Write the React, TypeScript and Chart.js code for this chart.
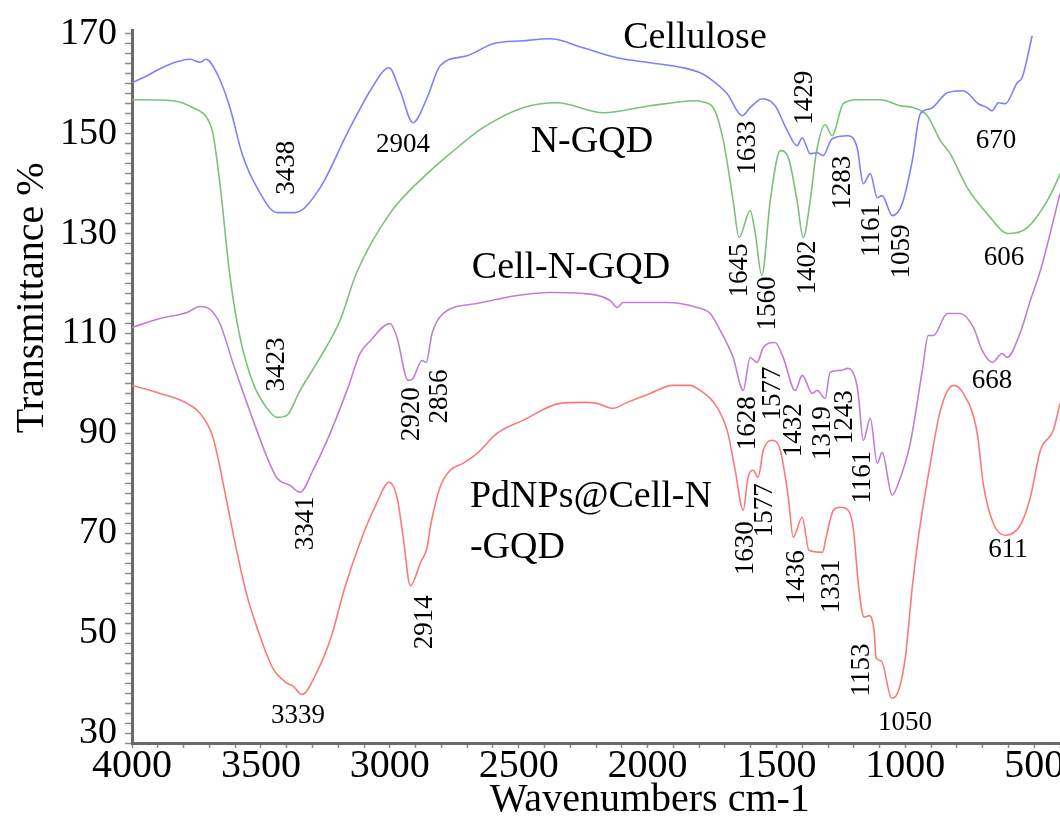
import React, { useEffect, useRef } from "react";
import { Chart, registerables } from "chart.js";

Chart.register(...registerables);

// ---- Data (wavenumber cm-1, transmittance %) ----
const celluloseWn = [4000, 3942, 3891, 3826, 3775, 3736, 3713, 3666, 3620, 3573, 3515, 3437, 3367, 3270, 3166, 3115, 3076, 3003, 2960, 2910, 2855, 2805, 2700, 2599, 2483, 2378, 2250, 2118, 1990, 1862, 1796, 1757, 1691, 1633, 1602, 1555, 1505, 1458, 1420, 1400, 1369, 1342, 1319, 1284, 1222, 1187, 1163, 1136, 1109, 1090, 1051, 1012, 973, 942, 903, 837, 775, 717, 682, 663, 639, 612, 566, 547, 508];
const celluloseT = [160.2, 161.6, 163, 164.4, 164.9, 164.3, 164.9, 161.6, 155.2, 146, 139.2, 134.2, 134.2, 139.2, 150, 155, 158.6, 163.2, 158.6, 152.2, 157.2, 163.6, 165.6, 168, 168.6, 169, 167.2, 165.2, 164.2, 163.2, 162.2, 161, 158, 153.6, 155.2, 157, 155.6, 150.6, 147.6, 149.2, 146, 146.2, 145.6, 149, 149.6, 147.2, 140, 142, 137.2, 137.6, 133.6, 136, 144.6, 154, 155, 158.2, 158.6, 156, 155.2, 154.6, 156.2, 156, 160.2, 161.2, 169.6];

const ngqdWn = [4000, 3841, 3763, 3710, 3686, 3659, 3620, 3581, 3530, 3476, 3437, 3399, 3348, 3270, 3193, 3130, 3000, 2855, 2766, 2638, 2483, 2351, 2172, 1990, 1808, 1790, 1745, 1706, 1668, 1645, 1602, 1582, 1557, 1524, 1485, 1454, 1420, 1396, 1369, 1346, 1311, 1284, 1241, 1187, 1097, 1020, 969, 915, 864, 826, 760, 683, 600, 527, 449, 406, 400];
const ngqdT = [156.8, 156.6, 155.2, 153.2, 150, 140, 121.5, 109.2, 100, 95, 93.2, 93.6, 98.6, 105.2, 112.6, 122, 134, 142, 146, 151.2, 155.2, 156.2, 154.2, 155.6, 156.6, 156.4, 155.2, 148.6, 136.6, 129.2, 134.6, 130, 121.6, 136.6, 146.6, 145.2, 136.6, 129.2, 136.6, 146, 151.8, 149.6, 156, 156.8, 156.8, 155.6, 155.2, 153.6, 148.6, 146, 139.2, 134, 130, 131.2, 136.6, 141.2, 142];

const cellNgqdWn = [4000, 3891, 3787, 3736, 3697, 3659, 3608, 3530, 3476, 3437, 3387, 3348, 3298, 3243, 3166, 3115, 3076, 2999, 2972, 2929, 2910, 2875, 2859, 2836, 2793, 2661, 2506, 2378, 2250, 2145, 2118, 2095, 1924, 1808, 1757, 1718, 1668, 1629, 1602, 1575, 1551, 1505, 1474, 1427, 1400, 1361, 1342, 1311, 1292, 1253, 1222, 1194, 1183, 1163, 1136, 1109, 1090, 1051, 1027, 981, 934, 911, 891, 837, 787, 736, 702, 663, 624, 605, 554, 515, 476, 400];
const cellNgqdT = [111.2, 113, 114.2, 115.4, 114.8, 112, 104, 92.6, 85.2, 81, 79.6, 78.2, 82.6, 88.6, 98.6, 106, 108.5, 112, 109.2, 100.6, 101, 104.6, 104.2, 110, 114, 116, 117.6, 118.2, 118, 116.6, 115.2, 116.2, 116.2, 115.2, 114, 110.6, 105.2, 98.6, 105.2, 104.2, 107.2, 108.2, 105.2, 98.6, 101.6, 98, 98.6, 97, 102.2, 102.6, 103, 101, 98, 88.6, 93, 84, 86.2, 77.6, 80, 88, 102.6, 109.6, 109.6, 114, 114, 111.2, 106.6, 104.2, 106, 105.2, 110.2, 116.6, 122.6, 138];

const pdWn = [4000, 3891, 3787, 3736, 3686, 3631, 3600, 3556, 3515, 3455, 3402, 3375, 3341, 3281, 3228, 3174, 3107, 3051, 3003, 2972, 2948, 2920, 2880, 2856, 2840, 2805, 2766, 2716, 2661, 2584, 2483, 2339, 2250, 2196, 2134, 2079, 1990, 1901, 1835, 1796, 1757, 1730, 1691, 1660, 1629, 1610, 1590, 1571, 1551, 1516, 1485, 1454, 1435, 1400, 1374, 1321, 1307, 1279, 1253, 1222, 1202, 1181, 1160, 1140, 1120, 1114, 1093, 1053, 1033, 1000, 973, 949, 903, 864, 814, 775, 721, 698, 659, 612, 554, 515, 476, 426, 400];
const pdT = [99.6, 98, 96, 94, 89.2, 76, 68, 57.9, 51.1, 43.1, 40.1, 39.4, 37.7, 42.4, 49.1, 59.2, 69.3, 76, 80.2, 77.2, 69.2, 59.5, 64.2, 67, 72, 79.2, 82.6, 84, 86, 90, 92.6, 96, 96.2, 96, 95, 96.2, 98, 99.6, 99.6, 98.6, 97, 95.2, 90.6, 82.6, 74.6, 81.2, 82.6, 81.2, 86.6, 88.6, 86.6, 77.2, 69.2, 73.2, 66.6, 66.2, 69.3, 74.6, 75.2, 74.6, 71, 59.2, 53.2, 53.5, 49.8, 45.1, 44.4, 37, 37.7, 45.1, 59.2, 69.3, 84, 94.6, 99.6, 98, 90, 80, 72, 69.6, 71.6, 77.2, 86.6, 90.6, 96];

const seriesNames = ["Cellulose", "N-GQD", "Cell-N-GQD", "PdNPs@Cell-N-GQD"];
const xTickLabels = [4000, 3500, 3000, 2500, 2000, 1500, 1000, 500];
const yTickLabels = [30, 50, 70, 90, 110, 130, 150, 170];

// Peak labels: text, wavenumber, transmittance, rotated
const peakText = ["3438", "2904", "1633", "1429", "670", "1283", "1161", "1059", "1645", "1560", "1402", "606", "3423", "2920", "2856", "668", "3341", "1628", "1577", "1432", "1319", "1243", "1161", "1630", "1577", "1436", "1331", "611", "2914", "1153", "3339", "1050"];
const peakWn = [3399, 2949, 1610, 1389, 648, 1242, 1129, 1013, 1641, 1533, 1378, 617, 3438, 2914, 2805, 664, 3325, 1610, 1513, 1432, 1319, 1234, 1164, 1618, 1544, 1420, 1284, 602, 2863, 1168, 3356, 1001];
const peakT = [143.2, 147.8, 147.2, 157.2, 148.6, 140.2, 130.6, 126.4, 122.6, 116, 123.2, 125.2, 103.8, 93.8, 97.4, 100.4, 72, 92, 98, 90.6, 90, 93.2, 81.2, 67, 74.6, 61.2, 59.4, 66.6, 52.2, 42.6, 33.4, 32];
const peakRot = [true, false, true, true, false, true, true, true, true, true, true, false, true, true, true, false, true, true, true, true, true, true, true, true, true, true, true, false, true, true, false, false];

// Series name labels
const nameText = ["Cellulose", "N-GQD", "Cell-N-GQD", "PdNPs@Cell-N", "-GQD"];
const nameWn = [1816, 2216, 2297, 2689, 2689];
const nameT = [169.2, 148.4, 123.2, 77.2, 67];
const nameAlign = ["center", "center", "center", "left", "left"];

const colors = ["#7f7ffb", "#7cc07c", "#bf7fd3", "#fb7a7a"];

const FONT = '"Liberation Serif", "Times New Roman", serif';

const labelPlugin = {
  id: "ftirLabels",
  afterDraw(chart: any) {
    const { ctx, chartArea } = chart;
    const xs = chart.scales.x;
    const ys = chart.scales.y;
    ctx.save();
    ctx.fillStyle = "#000";
    ctx.textBaseline = "middle";
    // peak labels
    ctx.font = `27px ${FONT}`;
    ctx.textAlign = "center";
    peakText.forEach((t, i) => {
      const px = xs.getPixelForValue(peakWn[i]);
      const py = ys.getPixelForValue(peakT[i]);
      if (peakRot[i]) {
        ctx.save();
        ctx.translate(px, py);
        ctx.rotate(-Math.PI / 2);
        ctx.fillText(t, 0, 0);
        ctx.restore();
      } else {
        ctx.fillText(t, px, py);
      }
    });
    // series names
    ctx.font = `38px ${FONT}`;
    nameText.forEach((t, i) => {
      ctx.textAlign = nameAlign[i];
      ctx.fillText(t, xs.getPixelForValue(nameWn[i]), ys.getPixelForValue(nameT[i]));
    });
    // axis titles
    ctx.font = `40px ${FONT}`;
    ctx.textAlign = "center";
    const w = chartArea.right - chartArea.left;
    const h = chartArea.bottom - chartArea.top;
    ctx.fillText("Wavenumbers cm-1", chartArea.left + 0.558 * w, chartArea.bottom + 57);
    ctx.save();
    ctx.translate(32, chartArea.top + 0.375 * h);
    ctx.rotate(-Math.PI / 2);
    ctx.fillText("Transmittance %", 0, 0);
    ctx.restore();
    ctx.restore();
  },
};

export default function App() {
  const ref = useRef<HTMLCanvasElement | null>(null);
  useEffect(() => {
    if (!ref.current) return;
    const mk = (wn: number[], t: number[]) => wn.map((x, i) => ({ x, y: t[i] }));
    const allData = [
      mk(celluloseWn, celluloseT),
      mk(ngqdWn, ngqdT),
      mk(cellNgqdWn, cellNgqdT),
      mk(pdWn, pdT),
    ];
    const chart = new Chart(ref.current, {
      type: "line",
      data: {
        datasets: seriesNames.map((name, i) => ({
          label: name,
          data: allData[i],
          borderColor: colors[i],
          borderWidth: 1.6,
          pointRadius: 0,
          fill: false,
          cubicInterpolationMode: "monotone",
        })),
      },
      options: {
        animation: false,
        responsive: false,
        devicePixelRatio: 1,
        parsing: true,
        layout: { padding: { top: 30, right: 0, left: 0, bottom: 0 } },
        plugins: { legend: { display: false }, tooltip: { enabled: false }, title: { display: false } },
        scales: {
          x: {
            type: "linear",
            reverse: true,
            min: 400,
            max: 4000,
            afterFit: (s: any) => {
              s.height = 74;
            },
            border: { display: true, color: "#6a6a6a", width: 3 },
            grid: {
              drawOnChartArea: false,
              drawTicks: true,
              tickLength: 5,
              tickColor: "#8a8a8a",
              tickWidth: 1.5,
            },
            ticks: {
              stepSize: 100,
              autoSkip: false,
              maxRotation: 0,
              minRotation: 0,
              padding: -2,
              color: "#000",
              font: { family: FONT, size: 40, lineHeight: 1 },
              callback: (v: any) => {
                const n = Math.round(Number(v));
                return xTickLabels.includes(n) ? String(n) : "";
              },
            },
          },
          y: {
            type: "linear",
            min: 28,
            max: 170.6,
            afterFit: (s: any) => {
              s.width = 132;
            },
            border: { display: true, color: "#6a6a6a", width: 3 },
            grid: {
              drawOnChartArea: false,
              drawTicks: true,
              tickLength: 7,
              tickColor: "#8a8a8a",
              tickWidth: 1.5,
            },
            ticks: {
              stepSize: 2,
              includeBounds: false,
              autoSkip: false,
              padding: 8,
              color: "#000",
              font: { family: FONT, size: 38 },
              callback: (v: any) => {
                const n = Math.round(Number(v));
                return Math.abs(Number(v) - n) < 1e-6 && yTickLabels.includes(n) ? String(n) : "";
              },
            },
          },
        },
      },
      plugins: [labelPlugin],
    } as any);
    return () => chart.destroy();
  }, []);
  return (
    <div style={{ position: "absolute", left: 0, top: 0, width: 1060, height: 817, background: "#fff" }}>
      <canvas ref={ref} width={1060} height={817} />
    </div>
  );
}
